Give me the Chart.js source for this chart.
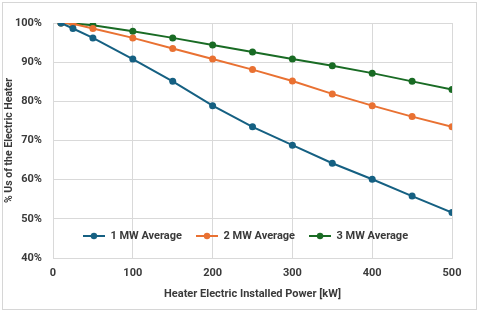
<!DOCTYPE html>
<html>
<head>
<meta charset="utf-8">
<script src="https://cdn.jsdelivr.net/npm/chart.js@4.4.1/dist/chart.umd.min.js"></script>
<style>
  html, body { margin: 0; padding: 0; background: #fff; }
  #wrap { position: relative; width: 480px; height: 315px; }
  #frame { position: absolute; left: 2px; top: 2px; width: 473px; height: 306px; border: 1px solid #d6d6d6; pointer-events: none; }
  canvas { position: absolute; left: 0; top: 0; }
</style>
</head>
<body>
<div id="wrap">
  <canvas id="c" width="480" height="315"></canvas>
  <div id="frame"></div>
</div>
<script>
const powerKW = [10, 25, 50, 100, 150, 200, 250, 300, 350, 400, 450, 500];
const avg1MW = [100, 98.6, 96.2, 90.8, 85.1, 78.9, 73.5, 68.8, 64.2, 60.1, 55.8, 51.6];
const avg2MW = [100, 99.8, 98.6, 96.2, 93.5, 90.8, 88.1, 85.2, 81.9, 78.9, 76.1, 73.5];
const avg3MW = [100, 99.9, 99.4, 97.9, 96.2, 94.4, 92.6, 90.8, 89.1, 87.2, 85.1, 83.0];
const seriesNames = ['1 MW Average', '2 MW Average', '3 MW Average'];
const seriesColors = ['#156082', '#E97132', '#196B24'];
const xTitle = 'Heater Electric Installed Power [kW]';
const yTitle = '% Us of the Electric Heater';

const textColor = '#3a3a3a';
const gridColor = '#d9d9d9';
const fontFamily = 'Roboto, "Liberation Sans", sans-serif';
const legendPadding = 14;

function legendIcon(color) {
  const cv = document.createElement('canvas');
  cv.width = 22; cv.height = 8;
  const g = cv.getContext('2d');
  g.strokeStyle = color; g.lineWidth = 2;
  g.beginPath(); g.moveTo(0, 4); g.lineTo(22, 4); g.stroke();
  g.fillStyle = color;
  g.beginPath(); g.arc(11, 4, 3.2, 0, Math.PI * 2); g.fill();
  return cv;
}

function toPoints(arr) { return powerKW.map((x, i) => ({ x: x, y: arr[i] })); }

const allSeries = [avg1MW, avg2MW, avg3MW];
const datasets = allSeries.map((arr, i) => ({
  label: seriesNames[i],
  data: toPoints(arr),
  borderColor: seriesColors[i],
  backgroundColor: seriesColors[i],
  borderWidth: 2,
  pointRadius: 3.5,
  pointHoverRadius: 3.5,
  pointBorderWidth: 0,
  pointStyle: 'circle',
  tension: 0
}));

const icons = seriesColors.map(legendIcon);

const legendMover = {
  id: 'legendMover',
  beforeLayout(chart) {
    if (chart.legend) chart.legend.isHorizontal = () => true;
  },
  afterLayout(chart) {
    const l = chart.legend;
    if (!l) return;
    const ca = chart.chartArea;
    l.left = ca.left - 7; l.right = ca.right - 7; l.width = l.right - l.left;
    const targetCenter = 237;
    const h = l.height;
    l.top = targetCenter - legendPadding - 6.5; l.bottom = l.top + h;
  }
};

new Chart(document.getElementById('c'), {
  type: 'line',
  data: { datasets: datasets },
  options: {
    responsive: false,
    animation: false,
    layout: { padding: { left: 3, right: 28, top: 23, bottom: 4 } },
    plugins: {
      tooltip: { enabled: false },
      legend: {
        position: 'chartArea',
        labels: {
          usePointStyle: true,
          pointStyleWidth: 22,
          padding: legendPadding,
          color: textColor,
          font: { family: fontFamily, size: 11, weight: '700' },
          generateLabels(chart) {
            return chart.data.datasets.map((ds, i) => ({
              text: ds.label,
              fillStyle: ds.backgroundColor,
              strokeStyle: ds.borderColor,
              lineWidth: 0,
              pointStyle: icons[i],
              fontColor: textColor,
              datasetIndex: i,
              hidden: false
            }));
          }
        }
      }
    },
    scales: {
      x: {
        type: 'linear',
        min: 0, max: 500,
        ticks: { stepSize: 100, padding: 9, color: textColor, font: { family: fontFamily, size: 11, weight: '700' } },
        grid: { color: gridColor, drawTicks: false, lineWidth: 1 },
        border: { color: gridColor },
        title: { display: true, text: xTitle, color: textColor, padding: { top: 0, bottom: 10 }, font: { family: fontFamily, size: 11, weight: '700' } },
        afterFit(scale) { scale.height = 53; }
      },
      y: {
        min: 40, max: 100,
        ticks: { stepSize: 10, padding: 11, color: textColor, callback: v => v + '%', font: { family: fontFamily, size: 11, weight: '700' } },
        grid: { color: gridColor, drawTicks: false, lineWidth: 1 },
        border: { color: gridColor },
        title: { display: true, text: yTitle, color: textColor, padding: { top: 0, bottom: 3 }, font: { family: fontFamily, size: 10.5, weight: '700' } },
        afterFit(scale) { scale.width = 50; }
      }
    }
  },
  plugins: [legendMover]
});
</script>
</body>
</html>
